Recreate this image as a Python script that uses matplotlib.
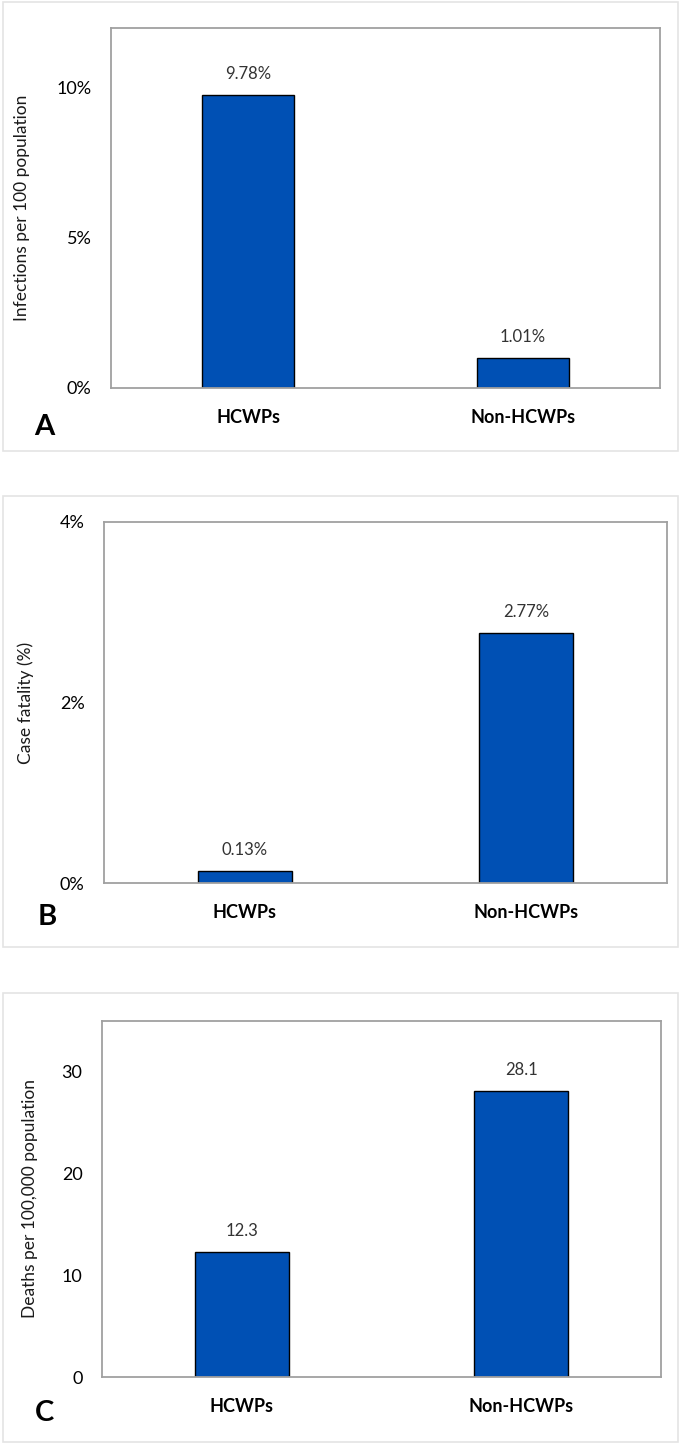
import matplotlib
matplotlib.use("Agg")
import matplotlib.pyplot as plt
from matplotlib.patches import Rectangle
from matplotlib.ticker import FuncFormatter

# ── Data ───────────────────────────────────────────────────────────
groups = ["HCWPs", "Non-HCWPs"]
infections_pct = [9.78, 1.01]        # infections per 100 population
case_fatality_pct = [0.13, 2.77]     # case fatality (%)
deaths_per_100k = [12.3, 28.1]       # deaths per 100,000 population

BAR = "#0050b4"
SPINE = "#a0a0a0"
FRAME = "#e4e4e4"
LABEL = "#333333"

plt.rcParams["font.family"] = ["Lato", "DejaVu Sans"]

W, H = 683, 1445
fig = plt.figure(figsize=(W / 100, H / 100), dpi=100)
fig.patch.set_facecolor("white")


def px_axes(left, top, right, bottom):
    return fig.add_axes([left / W, 1 - bottom / H, (right - left) / W, (bottom - top) / H])


def frame(top, bottom, left=3, right=678):
    fig.patches.append(Rectangle((left / W, 1 - bottom / H), (right - left) / W,
                                 (bottom - top) / H, transform=fig.transFigure,
                                 facecolor="none", edgecolor=FRAME, lw=1.2))


def panel(ax, values, ymax, yticks, ylabel, fmt, vfmt, label_x, letter, letter_xy):
    ax.bar(range(len(groups)), values, width=0.335, color=BAR,
           edgecolor="black", linewidth=1.0, zorder=2)
    ax.set_xlim(-0.5, len(groups) - 0.5)
    ax.set_ylim(0, ymax)
    ax.set_yticks(yticks)
    ax.yaxis.set_major_formatter(FuncFormatter(lambda v, p: fmt(v)))
    ax.set_xticks(range(len(groups)))
    ax.set_xticklabels(groups, fontsize=13, fontweight="bold")
    ax.tick_params(axis="y", length=0, pad=14, labelsize=13)
    ax.tick_params(axis="x", length=0, pad=15)
    for s in ax.spines.values():
        s.set_color(SPINE)
        s.set_linewidth(1.3)
    ax.set_ylabel(ylabel, fontsize=12.5, color="#1a1a1a")
    ax.yaxis.set_label_coords(label_x, 0.5)
    for i, v in enumerate(values):
        ax.annotate(vfmt(v), xy=(i, v), xytext=(0, 15), textcoords="offset points",
                    ha="center", va="center", fontsize=12, color=LABEL)
    fig.text(letter_xy[0] / W, 1 - letter_xy[1] / H, letter, fontsize=21,
             fontweight="bold", ha="center", va="center")


def pct(v):
    return f"{v:g}%"


# ── Panel A ────────────────────────────────────────────────────────
frame(2, 451)
axA = px_axes(111, 28, 660, 388)
panel(axA, infections_pct, 12, [0, 5, 10], "Infections per 100 population",
      pct, lambda v: f"{v:.2f}%", -0.148, "A", (44, 427))

# ── Panel B ────────────────────────────────────────────────────────
frame(496, 947)
axB = px_axes(104, 522, 667, 883)
panel(axB, case_fatality_pct, 4, [0, 2, 4], "Case fatality (%)",
      pct, lambda v: f"{v:.2f}%", -0.124, "B", (47, 917))

# ── Panel C ────────────────────────────────────────────────────────
frame(993, 1442)
axC = px_axes(102, 1021, 661, 1377)
panel(axC, deaths_per_100k, 35, [0, 10, 20, 30], "Deaths per 100,000 population",
      lambda v: f"{v:g}", lambda v: f"{v}", -0.114, "C", (45, 1413))

fig.savefig("out.png", dpi=100, facecolor="white")
